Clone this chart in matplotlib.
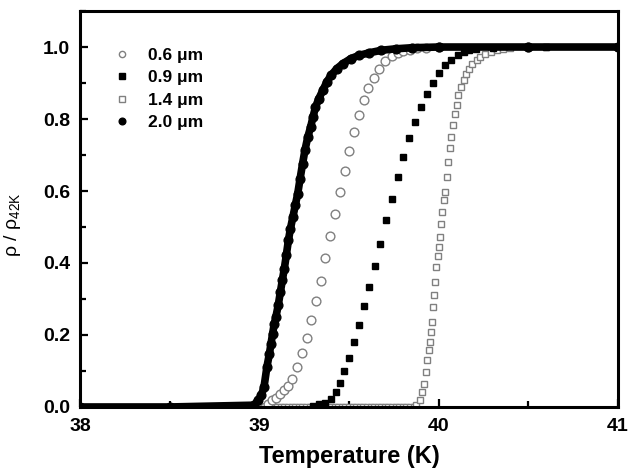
import matplotlib
matplotlib.use("Agg")
import matplotlib.pyplot as plt
from matplotlib.ticker import MultipleLocator, FormatStrFormatter

plt.rcParams['font.family'] = ['Liberation Sans', 'DejaVu Sans']
plt.rcParams['mathtext.fontset'] = 'custom'
plt.rcParams['mathtext.rm'] = 'Liberation Sans'

# temperatures (K) and normalised resistance
t06 = [39.03, 39.049, 39.071, 39.094, 39.117, 39.139, 39.162, 39.184, 39.211,
       39.236, 39.263, 39.288, 39.317, 39.342, 39.367, 39.392, 39.421, 39.448,
       39.475, 39.502, 39.529, 39.557, 39.584, 39.608, 39.638, 39.669, 39.703,
       39.737, 39.771, 39.80, 39.84, 39.88, 39.93, 40.0, 40.5, 41.0]
r06 = [0.0, 0.009, 0.019, 0.026, 0.037, 0.046, 0.057, 0.079, 0.111,
       0.150, 0.193, 0.241, 0.295, 0.351, 0.414, 0.476, 0.537, 0.597,
       0.656, 0.711, 0.763, 0.810, 0.852, 0.887, 0.915, 0.940, 0.961,
       0.974, 0.983, 0.989, 0.993, 0.996, 0.998, 1.0, 1.0, 1.0]

t09 = [39.30, 39.331, 39.365, 39.399, 39.426, 39.450, 39.473, 39.502, 39.529,
       39.557, 39.586, 39.613, 39.642, 39.672, 39.705, 39.737, 39.771, 39.800,
       39.832, 39.868, 39.902, 39.933, 39.969, 40.003, 40.037, 40.071, 40.105,
       40.139, 40.17, 40.21, 40.3, 40.6, 41.0]
r09 = [0.003, 0.007, 0.011, 0.022, 0.042, 0.066, 0.100, 0.136, 0.181,
       0.229, 0.281, 0.333, 0.392, 0.453, 0.519, 0.579, 0.638, 0.694,
       0.748, 0.792, 0.834, 0.869, 0.901, 0.928, 0.950, 0.965, 0.977,
       0.986, 0.991, 0.995, 0.998, 1.0, 1.0]

t14 = [38.0, 38.5, 39.00, 39.02, 39.04, 39.06, 39.08, 39.10, 39.12, 39.14,
       39.16, 39.18, 39.20, 39.22, 39.24, 39.26, 39.28, 39.30, 39.32, 39.34,
       39.36, 39.38, 39.40, 39.42, 39.44, 39.46, 39.48, 39.50, 39.52, 39.54,
       39.56, 39.58, 39.60, 39.62, 39.64, 39.66, 39.68, 39.70, 39.72, 39.74,
       39.76, 39.78, 39.80, 39.82, 39.84, 39.86,
       39.872, 39.895, 39.906, 39.917, 39.929, 39.935, 39.944, 39.953, 39.958,
       39.963, 39.969, 39.974, 39.980, 39.985, 39.994, 40.001, 40.008, 40.014,
       40.021, 40.030, 40.037, 40.044, 40.053, 40.064, 40.071, 40.080, 40.091,
       40.100, 40.109, 40.123, 40.139, 40.154, 40.170, 40.188, 40.211, 40.233,
       40.256, 40.290, 40.323, 40.36, 40.40, 40.6, 41.0]
r14 = [0.0] * 46 + [
       0.005, 0.019, 0.042, 0.065, 0.097, 0.130, 0.157, 0.181, 0.208,
       0.236, 0.278, 0.310, 0.347, 0.389, 0.419, 0.444, 0.472, 0.509,
       0.542, 0.574, 0.597, 0.639, 0.681, 0.720, 0.750, 0.782, 0.815,
       0.838, 0.866, 0.889, 0.907, 0.926, 0.940, 0.952, 0.963, 0.972,
       0.980, 0.986, 0.991, 0.995, 0.998, 1.0, 1.0]

t20 = [38.00, 38.50, 38.97, 38.993, 39.011, 39.026, 39.042, 39.056, 39.065,
       39.074, 39.083, 39.092, 39.105, 39.117, 39.128, 39.139, 39.150, 39.162,
       39.173, 39.187, 39.200, 39.214, 39.227, 39.241, 39.254, 39.270, 39.286,
       39.299, 39.313, 39.331, 39.354, 39.376, 39.399, 39.432, 39.466, 39.511,
       39.557, 39.613, 39.681, 39.760, 39.85, 40.0, 40.5, 41.0]
r20 = [0.0, 0.0, 0.005, 0.019, 0.032, 0.056, 0.111, 0.148, 0.176,
       0.204, 0.231, 0.250, 0.282, 0.319, 0.352, 0.384, 0.421, 0.463,
       0.495, 0.528, 0.560, 0.593, 0.634, 0.676, 0.713, 0.750, 0.778,
       0.806, 0.833, 0.856, 0.880, 0.903, 0.921, 0.940, 0.954, 0.968,
       0.977, 0.984, 0.991, 0.995, 0.998, 1.0, 1.0, 1.0]

labels = ['0.6 μm', '0.9 μm', '1.4 μm', '2.0 μm']
gray = '#808080'

fig = plt.figure(figsize=(6.33, 4.75), dpi=100)
ax = fig.add_axes([0.1264, 0.1432, 0.85, 0.8336])

ax.plot(t14, r14, 's', ms=4.3, mfc='white', mec=gray, mew=1.0, ls='none')
ax.plot(t09, r09, 's', ms=5.0, color='black', ls='none')
ax.plot(t06, r06, 'o', ms=6.3, mfc='white', mec=gray, mew=1.0, ls='none')
ax.plot(t20, r20, 'o-', ms=6.3, lw=5.5, color='black')

# legend handles (smaller markers than in the plot)
h06, = ax.plot([], [], 'o', ms=4.5, mfc='white', mec=gray, mew=1.0)
h09, = ax.plot([], [], 's', ms=4.2, color='black')
h14, = ax.plot([], [], 's', ms=4.2, mfc='white', mec=gray, mew=1.0)
h20, = ax.plot([], [], 'o', ms=4.8, color='black')
leg = ax.legend([h06, h09, h14, h20], labels, loc='upper left',
                bbox_to_anchor=(0.049, 0.925), frameon=False, handlelength=1.0,
                handletextpad=1.0, labelspacing=0.42, borderpad=0.4,
                borderaxespad=0, prop={'weight': 'bold', 'size': 12.5})

ax.set_xlim(38, 41)
ax.set_ylim(0, 1.1)
ax.xaxis.set_major_locator(MultipleLocator(1))
ax.xaxis.set_minor_locator(MultipleLocator(0.5))
ax.yaxis.set_major_locator(MultipleLocator(0.2))
ax.yaxis.set_minor_locator(MultipleLocator(0.1))
ax.yaxis.set_major_formatter(FormatStrFormatter('%.1f'))

for s in ax.spines.values():
    s.set_linewidth(2.2)
ax.tick_params(which='both', direction='in', top=False, right=False,
               width=1.6, labelsize=14)
ax.tick_params(axis='y', pad=7)
ax.tick_params(axis='x', pad=8)
ax.tick_params(which='major', length=5.5)
ax.tick_params(which='minor', length=4)
for lab in ax.get_xticklabels() + ax.get_yticklabels():
    lab.set_fontweight('bold')

ax.set_xlabel('Temperature (K)', fontsize=17, fontweight='bold', labelpad=7)
ax.set_ylabel(r'ρ / ρ$_{\mathregular{42K}}$', fontsize=14)
ax.yaxis.set_label_coords(-0.106, 0.46)

fig.savefig('out.png', dpi=100)
